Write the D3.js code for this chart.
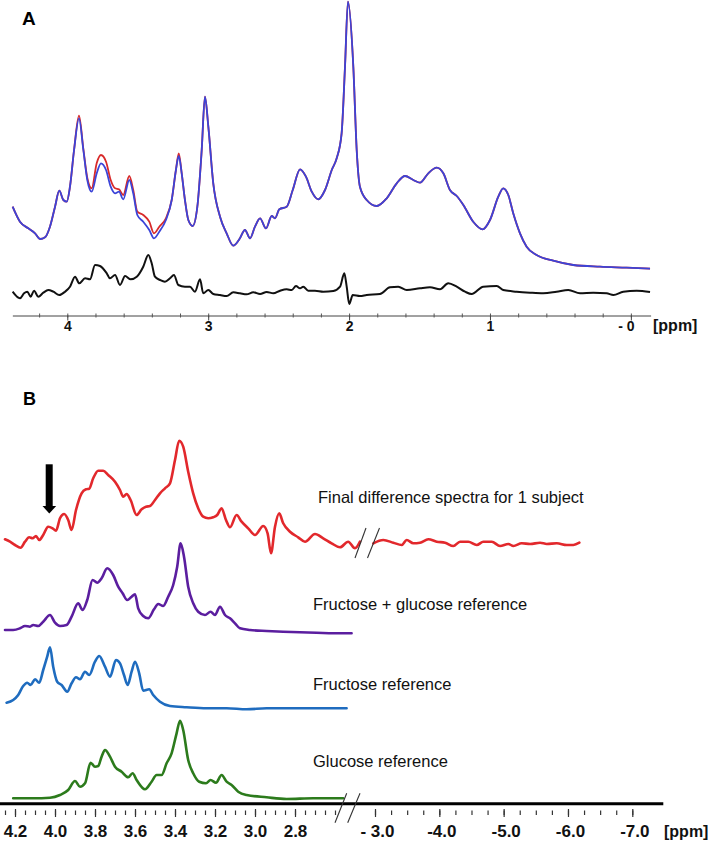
<!DOCTYPE html>
<html>
<head>
<meta charset="utf-8">
<script src="https://cdn.jsdelivr.net/npm/d3@7"></script>
<style>
  html, body { margin: 0; padding: 0; background: #fff; }
  svg { display: block; font-family: "Liberation Sans", Arial, sans-serif; }
</style>
</head>
<body>
<script>
// ---------------- DATA: Panel A (in vivo spectrum, fit and residual) ----------------
const specPpm = [4.388,4.336,4.277,4.229,4.194,4.158,4.123,4.087,4.057,4.028,
  4.004,3.981,3.952,3.917,3.886,3.858,3.827,3.791,3.761,3.725,
  3.692,3.661,3.633,3.603,3.560,3.532,3.503,3.461,3.418,3.385,
  3.347,3.300,3.259,3.229,3.209,3.188,3.165,3.141,3.110,3.077,
  3.046,3.023,2.999,2.964,2.916,2.869,2.822,2.779,2.739,2.703,
  2.668,2.632,2.590,2.549,2.526,2.495,2.443,2.400,2.348,2.306,
  2.265,2.219,2.171,2.123,2.088,2.053,2.029,2.008,1.970,1.946,
  1.923,1.875,1.804,1.733,1.662,1.603,1.544,1.497,1.438,1.378,
  1.331,1.284,1.236,1.189,1.119,1.052,1.000,0.941,0.906,0.870,
  0.835,0.787,0.740,0.669,0.551,0.409,0.219,0.030,-0.136];
const specBlue = [63.3,48.3,41.7,36.7,31,32.7,43.3,63.3,79.3,70,
  68.3,83.3,120,151.7,120,90,78.3,96.7,106.7,100,
  83.3,76.7,78.3,70.7,90,76.7,55,48.3,40,31.7,
  38.3,50,70,100,114,96.7,70,50,44,63.3,
  120,173.3,143.3,86.7,53.3,36.7,24.3,30.7,40,31.7,
  43.3,51.7,41.7,54,51.7,60.7,63.3,80,100.7,93.3,
  78.3,70.7,80,100,111.7,136.7,203.3,268.3,203.3,120,
  83.3,70,64,71.7,86.7,94,90,87.3,96.7,102.3,
  96.7,80,74,65,48.3,40.7,50,73.3,81.7,75,
  56.7,36.7,23.3,15,9.3,5,3.3,2.3,1.3];
const specRed = [63.3,48.3,41.7,36.7,31,32.7,43.3,63.3,79.3,70,
  68.3,83.3,120,154.3,121,92,81.7,107,115,108.3,
  90,81.7,80.7,75,94,80,58.3,55,48.3,36.7,
  43.3,51.7,70,100,116.7,96.7,70,50,44,63.3,
  120,173.3,143.3,86.7,53.3,36.7,24.3,30.7,40,31.7,
  43.3,51.7,41.7,54,51.7,60.7,63.3,80,100.7,93.3,
  78.3,70.7,80,100,111.7,136.7,203.3,268.3,203.3,120,
  83.3,70,64,71.7,86.7,94,90,87.3,96.7,102.3,
  96.7,80,74,65,48.3,40.7,50,73.3,81.7,75,
  56.7,36.7,23.3,15,9.3,5,3.3,2.3,1.3];
const diffPpm = [4.388,4.336,4.307,4.284,4.260,4.236,4.206,4.170,4.135,4.099,
  4.057,4.016,3.981,3.945,3.915,3.874,3.839,3.803,3.768,3.720,
  3.697,3.661,3.626,3.590,3.550,3.507,3.461,3.425,3.401,3.378,
  3.342,3.307,3.271,3.243,3.212,3.165,3.129,3.094,3.058,3.035,
  2.999,2.964,2.916,2.869,2.822,2.774,2.727,2.680,2.632,2.585,
  2.538,2.490,2.443,2.407,2.377,2.348,2.325,2.290,2.242,2.183,
  2.112,2.064,2.034,2.017,1.999,1.974,1.923,1.875,1.781,1.710,
  1.651,1.591,1.497,1.426,1.355,1.296,1.236,1.177,1.130,1.048,
  0.952,0.906,0.811,0.716,0.622,0.527,0.444,0.361,0.267,0.172,
  0.124,0.054,-0.041,-0.136];
const diffVal = [1.3,-5.3,-0.3,1.3,-3.7,2.3,-3.7,0.3,3,1.3,
  -2,1.3,6.3,16.3,9.7,14.7,13.7,28,27,19.7,
  14.7,18,8,17,13.7,16.3,26.3,38,29.7,16.3,
  13,11.3,14.7,18,8,6.3,6.3,1.3,13.7,-0.3,
  3,-1,-2,-3,0.7,-0.3,-1.3,0.7,-1,1,
  -0.3,2.3,3.7,3,7,4.7,6.3,2.3,2.3,1.3,
  2,6.3,19.7,6.3,-11,-2,-3,-2,-1,5.7,
  6.3,3,4.7,5.7,3.7,9.7,6.3,1.3,-1,6.3,
  7,3,1.3,0.3,-0.3,1.3,3,-0.3,0.3,-0.3,
  -2,1.3,2.3,1];
const axisATicks = [4, 3, 2, 1, 0];
const axisALabels = ["4", "3", "2", "1", "- 0"];

// ---------------- DATA: Panel B (difference spectrum and references) ----------------
const seriesNames = ["Final difference spectra for 1 subject", "Fructose + glucose reference", "Fructose reference", "Glucose reference"];
const finalLeftPpm = [4.25,4.225,4.2,4.172,4.15,4.129,4.112,4.095,4.079,4.059,
  4.034,4.012,3.995,3.975,3.954,3.934,3.917,3.895,3.867,3.845,
  3.829,3.809,3.784,3.759,3.734,3.7,3.675,3.659,3.642,3.622,
  3.592,3.567,3.545,3.525,3.5,3.475,3.45,3.425,3.4,3.379,
  3.359,3.334,3.309,3.284,3.259,3.234,3.209,3.189,3.167,3.145,
  3.125,3.092,3.067,3.034,3.0,2.959,2.937,2.92,2.9,2.879,
  2.859,2.825,2.784,2.75,2.7,2.659,2.617,2.575,2.534,2.5,2.475];
const finalLeftVal = [5.7,3.3,0,-2.7,3.3,7.7,6.7,9,5,10,
  18.3,16.7,14.3,26.7,31,25,15,35,51.7,55.7,
  56.3,66.7,74.3,74.3,70,63.3,55,48.3,51,45,
  30,35.7,38.3,39,45,51.7,56.7,61.7,85,104.3,
  98.3,73.3,51.7,36.7,28.3,26.7,27.7,30,36.7,25,
  17.7,30,23.3,16.7,10,19,11.7,-8.3,18.3,31.7,
  21.7,13.3,7.7,3.3,11,6.7,1.7,-2.3,3.3,-3.3,3.3];
const finalRightPpm = [-2.974,-3.129,-3.285,-3.415,-3.493,-3.596,-3.7,-3.829,-3.96,-4.089,
  -4.218,-4.322,-4.451,-4.582,-4.684,-4.815,-4.944,-5.073,-5.151,-5.281,
  -5.411,-5.566,-5.67,-5.826,-5.981,-6.084,-6.177];
const finalRightVal = [1.7,5,2.3,0,5,1.7,2.3,5.7,3.3,2.3,
  -1,3.3,3.3,0,3.3,3.3,-1,1,-1,1.7,
  1,2.3,1,1.7,0,0,2.3];
const fgPpm = [4.25,4.209,4.175,4.15,4.125,4.109,4.084,4.059,4.025,4.0,
  3.975,3.942,3.917,3.884,3.862,3.839,3.812,3.789,3.767,3.739,
  3.709,3.684,3.662,3.639,3.617,3.6,3.584,3.559,3.534,3.505,
  3.484,3.459,3.434,3.409,3.389,3.372,3.355,3.334,3.309,3.284,
  3.25,3.222,3.2,3.175,3.15,3.125,3.1,3.075,3.025,2.942,
  2.859,2.775,2.692,2.609,2.517];
const fgVal = [2,2,3.7,6,5.3,7,6,10.3,17,9.3,
  6,7,15.3,28.7,22,32,52,49.3,53.7,63.7,
  57,45.3,38.7,32,35.3,37.7,23.7,16,13.7,22.7,
  28,26,35.3,47,65.3,88.7,75.3,45.3,28.7,20.3,
  17,20.3,17,25.3,17,13.7,8.7,3.7,2,1,
  0.3,-0.3,-0.7,-1.3,-1.3];
const fruPpm = [4.242,4.209,4.184,4.159,4.139,4.122,4.1,4.079,4.059,4.039,
  4.025,4.009,3.989,3.967,3.939,3.917,3.895,3.875,3.85,3.829,
  3.8,3.779,3.75,3.725,3.695,3.675,3.655,3.637,3.617,3.6,
  3.579,3.559,3.529,3.509,3.475,3.425,3.342,3.242,3.142,3.042,
  2.942,2.809,2.675,2.542];
const fruVal = [5.3,8,13,22,25.3,23,28.7,25.3,38,51.3,
  60.7,41.3,26.3,23,16.3,24.7,30.7,28.7,36.3,33,
  46.3,52,41.3,31.3,48,44.7,33,23,36.3,46.3,
  34.7,17.3,18.7,13,6.3,2,0.7,-0.3,-0.3,-1.3,
  -0.3,-0.3,-0.3,-0.3];
const gluPpm = [4.209,4.109,4.025,3.975,3.934,3.9,3.875,3.85,3.822,3.8,
  3.784,3.767,3.75,3.725,3.7,3.667,3.634,3.612,3.592,3.55,
  3.517,3.492,3.467,3.442,3.417,3.392,3.375,3.359,3.334,3.309,
  3.279,3.245,3.222,3.195,3.167,3.142,3.117,3.084,3.042,2.942,
  2.842,2.709,2.559];
const gluVal = [-0.3,-0.3,0.3,3,8,17,11.3,14.7,35.3,31.3,
  32,41.3,48,41.3,31.3,26.3,20.7,24.7,18,8.7,
  16.3,23,23,34.7,44.7,64.7,77.3,68,38,24.7,
  16.3,14.7,18,15.3,23,16.3,13,6.3,3,0.7,
  -1,-0.3,-0.3];
const axisBLeftTicks = [4.2, 4.0, 3.8, 3.6, 3.4, 3.2, 3.0, 2.8];
const axisBLeftLabels = ["4.2", "4.0", "3.8", "3.6", "3.4", "3.2", "3.0", "2.8"];
const axisBRightTicks = [-3, -4, -5, -6, -7];
const axisBRightLabels = ["- 3.0", "-4.0", "-5.0", "-6.0", "-7.0"];

// ---------------- DRAWING ----------------
const W = 708, H = 842;
const svg = d3.select("body").append("svg").attr("width", W).attr("height", H);
svg.append("rect").attr("width", W).attr("height", H).attr("fill", "#fff");

// ===== Panel A =====
const xA = d3.scaleLinear().domain([4.39, -0.14]).range([12.35, 650.6]);
const yA = d3.scaleLinear().domain([0, 270]).range([270, 0]);
const yAd = d3.scaleLinear().domain([0, 30]).range([293, 263]);

const lineA = (ppm, ys) => d3.line()
  .x((d, i) => xA(ppm[i])).y(d => ys(d)).curve(d3.curveMonotoneX);

const gA = svg.append("g");
gA.append("path").datum(specRed).attr("d", lineA(specPpm, yA))
  .attr("fill", "none").attr("stroke", "#d82a2a").attr("stroke-width", 1.8).attr("stroke-linejoin", "round");
gA.append("path").datum(specBlue).attr("d", lineA(specPpm, yA))
  .attr("fill", "none").attr("stroke", "#3b44d8").attr("stroke-width", 1.8).attr("stroke-linejoin", "round");
gA.append("path").datum(diffVal).attr("d", lineA(diffPpm, yAd))
  .attr("fill", "none").attr("stroke", "#111").attr("stroke-width", 2).attr("stroke-linejoin", "round");

// Axis A
const axA = svg.append("g").attr("transform", "translate(0,315.5)");
axA.call(d3.axisBottom(xA).tickValues(d3.range(0, 22).map(i => +(4.2 - i * 0.2).toFixed(1)))
  .tickSize(2).tickSizeOuter(0).tickFormat(""));
axA.selectAll(".tick line").attr("y1", -2).attr("y2", 2).attr("stroke", "#555");
axA.select(".domain").attr("stroke", "#444");
const axA2 = svg.append("g").attr("transform", "translate(0,315.5)");
axA2.call(d3.axisBottom(xA).tickValues(axisATicks).tickSize(5).tickSizeOuter(0).tickPadding(1)
  .tickFormat((d, i) => axisALabels[i]));
axA2.select(".domain").remove();
axA2.selectAll(".tick line").attr("stroke", "#444");
axA2.selectAll(".tick text").attr("font-size", 14).attr("font-weight", "bold").attr("fill", "#111")
  .attr("font-family", "Liberation Sans, Arial, sans-serif");
axA2.selectAll(".tick text").filter(d => d === 0).attr("dx", -5);
svg.append("text").attr("x", 653).attr("y", 331).text("[ppm]")
  .attr("font-size", 16).attr("font-weight", "bold").attr("fill", "#111");

svg.append("text").attr("x", 22).attr("y", 25).text("A")
  .attr("font-size", 19).attr("font-weight", "bold").attr("fill", "#000");

// ===== Panel B =====
const xBL = d3.scaleLinear().domain([4.0, 2.8]).range([55, 295]);
const xBR = d3.scaleLinear().domain([-3, -7]).range([375, 632.3]);
const amp = d3.scaleLinear().domain([0, 100]).range([0, 100]);
const rowBase = d3.scaleOrdinal().domain(seriesNames).range([545, 632, 708, 798]);
const colors = d3.scaleOrdinal().domain(seriesNames).range(["#e2282c", "#5b1e9f", "#1f6cbf", "#2c7b1c"]);

const lineB = (ppm, xs, name) => d3.line()
  .x((d, i) => xs(ppm[i])).y(d => rowBase(name) - amp(d)).curve(d3.curveMonotoneX);

const traces = [
  { name: seriesNames[0], ppm: finalLeftPpm, val: finalLeftVal, xs: xBL },
  { name: seriesNames[0], ppm: finalRightPpm, val: finalRightVal, xs: xBR },
  { name: seriesNames[1], ppm: fgPpm, val: fgVal, xs: xBL },
  { name: seriesNames[2], ppm: fruPpm, val: fruVal, xs: xBL },
  { name: seriesNames[3], ppm: gluPpm, val: gluVal, xs: xBL }
];
const gB = svg.append("g");
traces.forEach(t => {
  gB.append("path").datum(t.val).attr("d", lineB(t.ppm, t.xs, t.name))
    .attr("fill", "none").attr("stroke", colors(t.name)).attr("stroke-width", 2.6)
    .attr("stroke-linejoin", "round").attr("stroke-linecap", "round");
});

// break marks on the difference spectrum
[[355, 558, 366, 528], [367.5, 558, 379.5, 528]].forEach(s => {
  svg.append("line").attr("x1", s[0]).attr("y1", s[1]).attr("x2", s[2]).attr("y2", s[3])
    .attr("stroke", "#333").attr("stroke-width", 1.1);
});

// series labels
const labelPos = [[318, 503], [313, 610], [313, 690], [313, 767]];
seriesNames.forEach((n, i) => {
  svg.append("text").attr("x", labelPos[i][0]).attr("y", labelPos[i][1]).text(n)
    .attr("font-size", 16.5).attr("fill", "#111");
});

// arrow
svg.append("rect").attr("x", 45.7).attr("y", 464.3).attr("width", 7).attr("height", 43).attr("fill", "#000");
svg.append("path").attr("d", "M42.5,506 L56.2,506 L49.3,513.5 Z").attr("fill", "#000");

svg.append("text").attr("x", 23).attr("y", 405).text("B")
  .attr("font-size", 18).attr("font-weight", "bold").attr("fill", "#000");

// Axis B
svg.append("line").attr("x1", 0).attr("x2", 663.3).attr("y1", 803.7).attr("y2", 803.7)
  .attr("stroke", "#000").attr("stroke-width", 3);

function tickAxis(scale, minors, majors, labels, dx) {
  const g1 = svg.append("g").attr("transform", "translate(0,810.5)");
  g1.call(d3.axisBottom(scale).tickValues(minors).tickSize(4.5).tickSizeOuter(0).tickFormat(""));
  g1.select(".domain").remove();
  g1.selectAll(".tick line").attr("stroke", "#333").attr("stroke-width", 1.2);
  const g2 = svg.append("g").attr("transform", "translate(0,809)");
  g2.call(d3.axisBottom(scale).tickValues(majors).tickSize(8).tickSizeOuter(0).tickPadding(8)
    .tickFormat((d, i) => labels[i]));
  g2.select(".domain").remove();
  g2.selectAll(".tick line").attr("stroke", "#333").attr("stroke-width", 1.2);
  g2.selectAll(".tick text").attr("font-size", 17).attr("font-weight", "bold").attr("fill", "#111")
    .attr("font-family", "Liberation Sans, Arial, sans-serif").attr("dx", dx);
}
tickAxis(xBL, d3.range(0, 34).map(i => +(4.25 - i * 0.05).toFixed(2)), axisBLeftTicks, axisBLeftLabels, 0);
tickAxis(xBR, d3.range(0, 17).map(i => -3 - i * 0.25), axisBRightTicks, axisBRightLabels, 2);

[[335, 822.7, 346.7, 793.3], [347.7, 822.7, 360, 793.3]].forEach(s => {
  svg.append("line").attr("x1", s[0]).attr("y1", s[1]).attr("x2", s[2]).attr("y2", s[3])
    .attr("stroke", "#333").attr("stroke-width", 1.1);
});
svg.append("text").attr("x", 664).attr("y", 837).text("[ppm]")
  .attr("font-size", 16).attr("font-weight", "bold").attr("fill", "#111");
</script>
</body>
</html>
